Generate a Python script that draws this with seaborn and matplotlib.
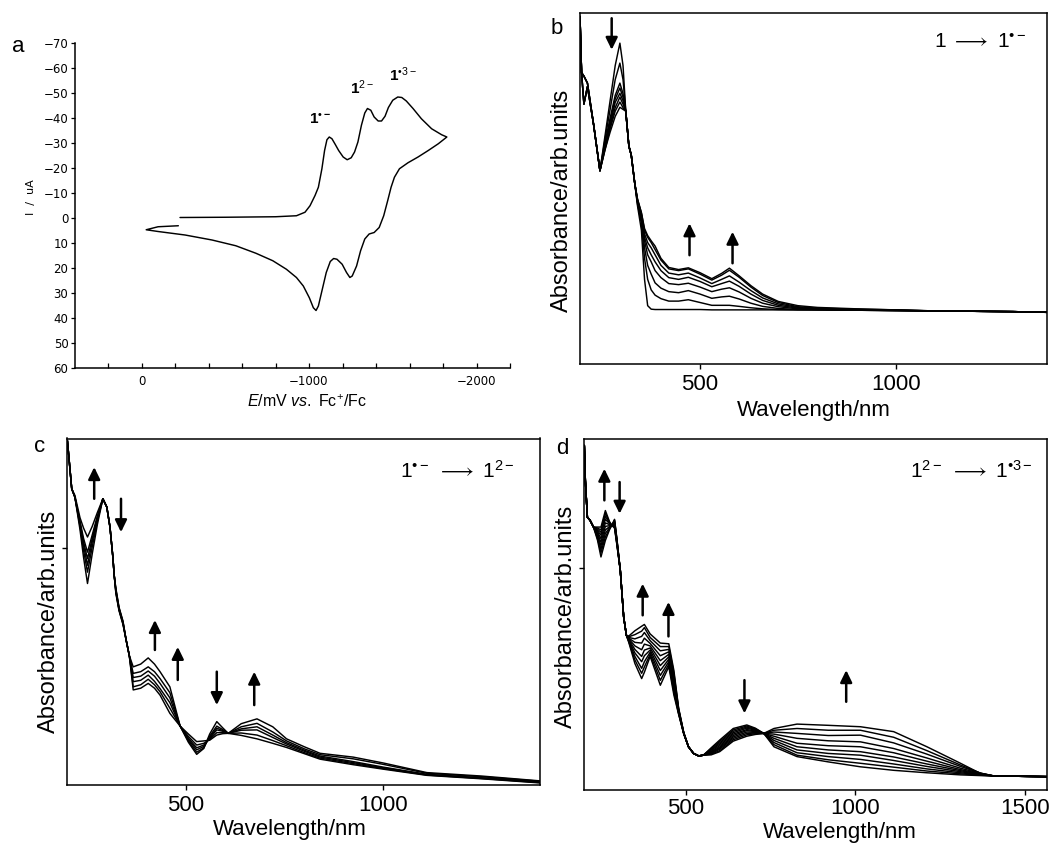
import matplotlib
matplotlib.use("Agg")
import matplotlib.pyplot as plt
import pandas as pd
import seaborn as sns

# ---------------- (a) cyclic voltammogram ----------------
cv_fwd_E = [-230, -500, -800, -925, -976, -1006, -1036, -1056, -1077, -1093,
            -1107, -1121, -1137, -1157, -1177, -1204, -1228, -1252, -1272, -1292,
            -1313, -1333, -1349, -1369, -1389, -1413, -1433, -1454, -1474, -1500,
            -1530, -1554, -1581, -1621, -1671, -1732, -1792, -1823]
cv_fwd_I = [-0.2, -0.3, -0.5, -0.9, -2.3, -4.9, -9.0, -12.3, -19.7, -27.0,
            -31.3, -32.4, -31.7, -29.4, -27.0, -24.4, -23.3, -24.1, -26.4, -30.4,
            -37.1, -42.0, -43.8, -43.1, -40.4, -38.8, -38.8, -40.7, -44.2, -47.1,
            -48.4, -48.2, -46.8, -43.8, -39.7, -35.7, -33.3, -32.4]
cv_rev_E = [-1823, -1772, -1712, -1651, -1591, -1540, -1510, -1490, -1470, -1446,
            -1419, -1389, -1359, -1333, -1308, -1284, -1258, -1244, -1224, -1198,
            -1167, -1147, -1127, -1103, -1077, -1056, -1042, -1026, -1002, -966,
            -925, -865, -784, -683, -563, -421, -260, -99, -28, -99, -220]
cv_rev_I = [-32.4, -29.7, -27.0, -24.4, -22.1, -19.7, -16.3, -12.3, -7.0, -0.9,
            3.8, 5.8, 6.4, 8.4, 13.1, 19.2, 23.2, 23.8, 21.8, 18.5,
            16.5, 16.2, 17.4, 21.8, 29.2, 35.2, 37.0, 35.9, 31.9, 27.2,
            23.8, 20.5, 17.1, 14.1, 11.1, 8.8, 6.8, 5.4, 4.7, 3.5, 3.1]
cv_xticks = [200, 0, -200, -400, -600, -800, -1000, -1200, -1400, -1600, -1800, -2000, -2200]
cv_xticklabels = ['', '0', '', '', '', '', '\u22121000', '', '', '', '', '\u22122000', '']
cv_yticks = [-70, -60, -50, -40, -30, -20, -10, 0, 10, 20, 30, 40, 50, 60]
cv_yticklabels = ['\u221270', '\u221260', '\u221250', '\u221240', '\u221230', '\u221220', '\u221210',
                  '0', '10', '20', '30', '40', '50', '60']
cv_wave_labels = ['$\\mathbf{1^{\u2022-}}$', r'$\mathbf{1}^{2-}$', '$\\mathbf{1}^{\u20223-}$']
cv_wave_E = [-1065, -1316, -1558]
cv_wave_I = [-39.5, -52.2, -57.5]

# ---------------- (b) 1 -> 1.- spectra ----------------
b_wl = [193, 197, 203, 212, 228, 244, 257, 270, 283, 295, 303, 310, 318, 324, 333, 340, 350, 358,
        366, 375, 385, 400, 420, 445, 470, 500, 530, 555, 575, 600, 630, 660, 700, 750, 800, 900,
        1000, 1100, 1200, 1300, 1387]
b_scans = [
    [99, 83, 82, 80, 68, 55, 65, 75, 85, 91.4, 85, 72, 62, 59.5, 51.4, 45, 38, 24, 16.5, 15.5,
     15.4, 15.4, 15.4, 15.4, 15.4, 15.4, 15.3, 15.3, 15.3, 15.3, 15.3, 15.3, 15.3, 15.3, 15.3, 15.2,
     15.1, 15.0, 14.9, 14.8, 14.6],
    [99, 83, 82, 80, 68, 55, 64, 72.5, 81, 85.7, 81, 72, 62, 59.5, 51.4, 45.5, 40, 30, 24, 21,
     19.5, 18.5, 17.8, 17.8, 18.2, 17.4, 16.6, 16.6, 16.6, 16.3, 15.9, 15.6, 15.4, 15.3, 15.3, 15.2,
     15.1, 15.0, 14.9, 14.8, 14.6],
    [99, 83, 82, 80, 68, 55, 63, 70, 76.5, 80.0, 77, 72, 62, 59.5, 51.4, 46, 41, 33, 28, 25.5,
     23, 21.5, 20.5, 20.2, 20.8, 19.8, 18.6, 19.0, 19.2, 18.4, 17.2, 16.3, 15.7, 15.4, 15.3, 15.2,
     15.1, 15.0, 14.9, 14.8, 14.6],
    [99, 83, 82, 80, 68, 55, 62.5, 69, 75.5, 78.6, 76, 72, 62, 59.5, 51.4, 46.2, 41.5, 35, 31, 29,
     26.5, 24.5, 22.8, 22.5, 22.9, 21.8, 20.5, 21.2, 21.6, 20.4, 18.6, 17.2, 16.2, 15.6, 15.4, 15.3,
     15.1, 15.0, 14.9, 14.8, 14.6],
    [99, 83, 74, 79, 68, 55, 62, 68, 74.5, 77.1, 75, 72, 62, 59.5, 51.4, 46.4, 42, 36, 33, 31,
     29, 26.5, 24.5, 24, 24.6, 23.4, 21.9, 22.8, 23.5, 22.0, 19.8, 18.0, 16.6, 15.8, 15.5, 15.3,
     15.2, 15.0, 14.9, 14.8, 14.6],
    [99, 83, 74, 79, 68, 55, 61.5, 67.5, 73, 76.0, 74, 72, 62, 59.5, 51.4, 46.6, 42.5, 37, 34.5, 33,
     31, 28, 25.8, 25.3, 25.8, 24.4, 22.8, 24.0, 25.0, 23.2, 20.8, 18.7, 17.0, 16.0, 15.6, 15.4,
     15.2, 15.0, 14.9, 14.8, 14.6],
    [99, 83, 74, 79, 68, 55, 61, 67, 72, 74.6, 73, 72, 62, 59.5, 51.4, 46.8, 43, 38, 36, 34.5,
     32.5, 29.5, 27, 26.5, 27.0, 25.5, 23.8, 25.2, 26.6, 24.6, 21.8, 19.4, 17.4, 16.2, 15.8, 15.5,
     15.3, 15.0, 14.9, 14.8, 14.6],
    [99, 83, 74, 79, 68, 55, 61, 66, 70.5, 73.1, 72.5, 72, 62, 59.5, 51.4, 47, 43, 38.5, 36.5, 35,
     33.5, 30, 27.4, 26.8, 27.3, 25.9, 24.2, 25.7, 27.2, 25.0, 22.2, 19.8, 17.7, 16.5, 16.0, 15.6,
     15.3, 15.0, 14.9, 14.8, 14.6],
]
b_arrow_wl = [274, 473, 583]
b_arrow_from = [98.5, 30.9, 28.6]
b_arrow_to = [89.5, 40.0, 37.6]

# ---------------- (c) 1.- -> 1 2- spectra ----------------
c_wl = [199, 210, 218, 231, 240, 250, 262, 275, 289, 299, 307, 314, 318, 322, 330, 340, 348, 356,
        366, 385, 404, 420, 434, 459, 485, 506, 527, 545, 560, 578, 593, 607, 640, 680, 720, 755,
        800, 840, 924, 1000, 1111, 1250, 1398]
c_scans = [
    [99.4, 85.4, 83.0, 73.5, 65.5, 57.9, 66.5, 75, 82.5, 80.1, 74.3, 66, 60, 55, 50, 46, 41.5, 37,
     27.0, 27.5, 28.9, 27.5, 25.5, 20.2, 16.5, 11.8, 8.3, 10.0, 14.2, 17.8, 16.0, 14.4, 13.8, 12.8,
     11.5, 10.3, 8.5, 6.9, 5.3, 4.0, 2.2, 1.2, 0.0],
    [99.4, 85.4, 83.0, 74.5, 67.5, 61.2, 68.5, 76, 82.5, 80.1, 74.3, 66, 60, 55.3, 50.2, 46.2, 41.5, 37,
     27.9, 28.5, 30.1, 28.5, 26.5, 21.7, 16.5, 12.2, 8.9, 10.2, 13.6, 16.5, 15.5, 14.4, 14.5, 13.9,
     12.3, 10.8, 8.8, 7.2, 5.6, 4.2, 2.3, 1.3, 0.1],
    [99.4, 85.4, 83.0, 75, 69, 63.2, 70, 76.5, 82.5, 80.1, 74.3, 66, 60, 55.6, 50.4, 46.4, 41.5, 37,
     29.4, 29.8, 31.3, 29.5, 27.4, 23.3, 16.5, 12.6, 9.6, 10.6, 13.2, 15.9, 15.2, 14.4, 15.3, 15.4,
     13.2, 11.3, 9.2, 7.5, 5.9, 4.4, 2.4, 1.4, 0.2],
    [99.4, 85.4, 83.0, 75.5, 70, 65.1, 71, 77, 82.5, 80.1, 74.3, 66, 60, 55.9, 50.6, 46.6, 41.5, 37,
     30.6, 31, 32.5, 31, 28.9, 24.7, 16.5, 13.0, 10.2, 11.0, 12.9, 15.4, 15.0, 14.4, 15.7, 16.3,
     13.9, 11.7, 9.5, 7.8, 6.2, 4.6, 2.5, 1.5, 0.3],
    [99.4, 85.4, 83.0, 76, 71, 67.0, 72, 77.5, 82.5, 80.1, 74.3, 66, 60, 56.2, 50.8, 46.8, 41.5, 37,
     31.8, 32.3, 33.7, 32.3, 30.3, 26.2, 16.5, 13.5, 11.0, 11.5, 12.6, 14.6, 14.6, 14.4, 16.3, 17.3,
     14.8, 12.2, 9.9, 8.2, 7.0, 5.4, 2.8, 1.8, 0.5],
    [99.4, 85.4, 83.5, 77, 74, 71.4, 74.5, 78.5, 82.5, 80.1, 74.3, 66, 60, 56.5, 51, 47, 41.5, 37,
     33.7, 34.5, 36.3, 34.5, 32.3, 27.9, 16.5, 14.2, 12.0, 12.2, 12.4, 13.9, 14.3, 14.4, 17.2, 18.6,
     16.3, 12.8, 10.5, 8.6, 7.5, 5.8, 3.0, 2.0, 0.6],
]
c_arrow_wl = [267, 335, 421, 479, 578, 673]
c_arrow_from = [82.5, 82.5, 38.6, 29.9, 32.3, 22.6]
c_arrow_to = [91.7, 72.8, 47.3, 39.5, 22.6, 32.3]

# ---------------- (d) 1 2- -> 1.3- spectra (one row per wavelength, 10 scans) ----------------
d_wl = [201, 204, 210, 218, 228, 240, 250, 263, 275, 282, 290, 297, 307, 317, 325, 332, 350, 370,
        378, 395, 425, 450, 465, 479, 494, 508, 523, 538, 552, 575, 600, 640, 680, 705, 730, 760,
        828, 920, 1015, 1113, 1211, 1310, 1369, 1408, 1565]
d_rows = [
    [98.0, 98.0, 98.0, 98.0, 98.0, 98.0, 98.0, 98.0, 98.0, 98.0],
    [88.0, 88.0, 88.0, 88.0, 88.0, 88.0, 88.0, 88.0, 88.0, 88.0],
    [77.6, 77.6, 77.6, 77.6, 77.6, 77.6, 77.6, 77.6, 77.6, 77.6],
    [76.7, 76.7, 76.7, 76.7, 76.7, 76.7, 76.7, 76.7, 76.7, 76.7],
    [74.8, 74.8, 74.8, 74.8, 74.8, 74.8, 74.8, 74.8, 74.8, 74.8],
    [71.0, 71.5, 72.0, 72.5, 73.0, 73.4, 73.8, 74.2, 74.5, 74.8],
    [66.3, 67.5, 68.5, 69.5, 70.5, 71.5, 72.5, 73.3, 74.0, 74.8],
    [71.0, 72.0, 73.0, 74.0, 75.0, 76.0, 77.0, 77.8, 78.7, 79.5],
    [74.0, 74.3, 74.6, 74.9, 75.2, 75.5, 75.8, 76.0, 76.2, 76.4],
    [75.3, 75.3, 75.3, 75.3, 75.3, 75.3, 75.3, 75.3, 75.3, 75.3],
    [77.0, 76.8, 76.6, 76.3, 76.0, 75.7, 75.4, 75.1, 74.8, 74.5],
    [71.5, 71.3, 71.1, 70.9, 70.7, 70.5, 70.3, 70.1, 69.9, 69.7],
    [62.5, 62.5, 62.5, 62.5, 62.5, 62.5, 62.5, 62.5, 62.5, 62.5],
    [49.2, 49.2, 49.2, 49.2, 49.2, 49.2, 49.2, 49.2, 49.2, 49.2],
    [44.0, 44.0, 44.0, 44.0, 44.0, 44.0, 44.0, 44.0, 44.0, 44.0],
    [42.0, 42.2, 42.4, 42.6, 42.8, 43.0, 43.2, 43.4, 43.6, 43.8],
    [36.0, 37.0, 38.0, 39.0, 40.0, 41.0, 42.0, 43.0, 44.2, 45.3],
    [31.7, 33.2, 34.6, 36.5, 38.0, 39.9, 41.8, 43.7, 45.2, 46.6],
    [33.5, 35.0, 36.5, 38.2, 39.8, 41.5, 43.2, 44.8, 46.2, 47.1],
    [38.0, 38.6, 39.2, 39.8, 40.4, 41.0, 41.7, 42.5, 43.4, 44.4],
    [29.8, 31.2, 32.6, 34.0, 35.4, 36.8, 38.2, 39.6, 40.8, 41.8],
    [35.1, 35.8, 36.5, 37.2, 37.9, 38.6, 39.3, 40.0, 40.8, 41.6],
    [27.0, 27.8, 28.6, 29.4, 30.2, 31.0, 31.8, 32.6, 33.3, 34.0],
    [21.5, 21.7, 21.9, 22.1, 22.3, 22.5, 22.7, 22.9, 23.1, 23.3],
    [16.0, 16.0, 16.1, 16.1, 16.1, 16.2, 16.2, 16.3, 16.3, 16.4],
    [12.3, 12.3, 12.3, 12.3, 12.3, 12.3, 12.3, 12.3, 12.3, 12.3],
    [10.4, 10.4, 10.4, 10.4, 10.4, 10.4, 10.4, 10.4, 10.4, 10.4],
    [9.7, 9.7, 9.7, 9.7, 9.7, 9.7, 9.7, 9.7, 9.7, 9.7],
    [9.9, 9.9, 9.9, 9.9, 9.9, 9.9, 9.9, 9.9, 9.9, 9.9],
    [12.0, 11.8, 11.5, 11.3, 11.0, 10.8, 10.6, 10.4, 10.2, 10.0],
    [14.2, 13.8, 13.4, 13.0, 12.6, 12.2, 11.9, 11.6, 11.2, 10.9],
    [17.5, 17.1, 16.7, 16.3, 15.9, 15.5, 15.1, 14.7, 14.3, 13.9],
    [18.5, 18.2, 17.9, 17.6, 17.2, 16.9, 16.5, 16.1, 15.7, 15.3],
    [17.6, 17.4, 17.2, 17.0, 16.8, 16.6, 16.4, 16.2, 16.0, 15.8],
    [16.1, 16.1, 16.1, 16.1, 16.1, 16.1, 16.1, 16.1, 16.1, 16.1],
    [12.3, 12.9, 13.5, 14.1, 14.7, 15.3, 15.9, 16.5, 17.0, 17.5],
    [9.5, 9.9, 10.6, 11.4, 12.3, 13.3, 14.7, 16.1, 17.5, 18.75],
    [8.0, 8.6, 9.5, 10.4, 11.4, 12.6, 14.0, 15.5, 17.0, 18.4],
    [6.6, 7.6, 8.7, 9.9, 10.9, 12.3, 13.7, 15.6, 17.0, 18.0],
    [5.6, 6.5, 7.4, 8.4, 9.4, 10.6, 11.8, 13.4, 15.0, 16.6],
    [4.9, 5.4, 6.0, 6.7, 7.4, 8.2, 9.1, 10.2, 11.2, 12.3],
    [4.3, 4.6, 4.9, 5.2, 5.5, 5.8, 6.2, 6.7, 7.1, 7.6],
    [4.1, 4.2, 4.3, 4.4, 4.5, 4.6, 4.7, 4.8, 4.8, 4.7],
    [4.0, 4.0, 4.0, 4.0, 4.0, 4.0, 4.0, 4.0, 4.0, 4.0],
    [3.8, 3.8, 3.8, 3.8, 3.8, 3.8, 3.8, 3.8, 3.8, 3.8],
]
d_arrow_wl = [260, 305, 373, 449, 673, 973]
d_arrow_from = [82.4, 87.6, 49.7, 43.7, 31.25, 25.1]
d_arrow_to = [91.4, 78.6, 58.7, 53.5, 21.8, 34.1]

# ---------------- style ----------------
sns.set_style("ticks")
plt.rcParams.update({
    'font.family': ['Liberation Sans', 'DejaVu Sans'],
    'mathtext.fontset': 'custom',
    'mathtext.rm': 'Liberation Sans',
    'mathtext.it': 'Liberation Sans:italic',
    'mathtext.bf': 'Liberation Sans:bold',
    'mathtext.fallback': 'stixsans',
    'axes.linewidth': 1.1,
    'axes.edgecolor': 'black',
    'axes.labelcolor': 'black',
    'text.color': 'black',
    'xtick.color': 'black',
    'ytick.color': 'black',
})

W, H = 1049, 844
fig = plt.figure(figsize=(W / 100, H / 100), dpi=100)


def px_axes(left, top, right, bottom):
    return fig.add_axes([left / W, 1 - bottom / H, (right - left) / W, (bottom - top) / H])


# ---------------- panel a ----------------
axa = px_axes(74.5, 43, 510, 368)
cv = pd.DataFrame({'E': cv_fwd_E + cv_rev_E[1:], 'I': cv_fwd_I + cv_rev_I[1:]})
sns.lineplot(data=cv, x='E', y='I', sort=False, estimator=None, color='k', lw=1.05, ax=axa)
axa.set_xlim(400, -2200)
axa.set_ylim(60, -70)
axa.spines[['top', 'right']].set_visible(False)
axa.set_xticks(cv_xticks)
axa.set_xticklabels(cv_xticklabels, fontfamily='DejaVu Sans', fontsize=8.5)
axa.set_yticks(cv_yticks)
axa.set_yticklabels(cv_yticklabels, fontfamily='DejaVu Sans', fontsize=8.5)
axa.tick_params(axis='x', direction='in', length=3.6, width=0.9, pad=5)
axa.tick_params(axis='y', direction='out', length=2.9, width=0.9, pad=1.5)
axa.set_xlabel(r'$\it{E}$/mV $\it{vs.}$ Fc$^{+}$/Fc', fontsize=11.5)
axa.xaxis.set_label_coords(0.534, -0.105)
axa.xaxis.label.set_va('center')
axa.set_ylabel('I  /  uA', fontsize=8, fontfamily='DejaVu Sans')
axa.yaxis.set_label_coords(-0.1, 0.526)
axa.yaxis.label.set_va('center')
for lab, e, i in zip(cv_wave_labels, cv_wave_E, cv_wave_I):
    axa.text(e, i, lab, ha='center', va='center', fontsize=11)


# ---------------- spectra panels ----------------
def spectra_panel(ax, wl, scans, xlim, ylim, xticks, yticks, pad=4):
    rows = [(w, a, k) for k, s in enumerate(scans) for w, a in zip(wl, s)]
    df = pd.DataFrame(rows, columns=['wl', 'A', 'scan'])
    sns.lineplot(data=df, x='wl', y='A', units='scan', estimator=None, color='k',
                 lw=1.05, ax=ax, legend=False)
    ax.set_xlim(*xlim)
    ax.set_ylim(*ylim)
    ax.set_xticks(xticks)
    ax.set_xticklabels([str(t) for t in xticks], fontsize=16)
    ax.set_yticks(yticks)
    ax.set_yticklabels([])
    ax.tick_params(axis='both', direction='out', length=3.5, width=1.0, pad=pad)
    ax.set_xlabel('Wavelength/nm', fontsize=16)
    ax.set_ylabel('Absorbance/arb.units', fontsize=17)
    ax.xaxis.label.set_va('center')
    ax.yaxis.label.set_va('center')


def arrows(ax, wls, frm, to):
    for w, a0, a1 in zip(wls, frm, to):
        ax.annotate('', xy=(w, a1), xytext=(w, a0),
                    arrowprops=dict(arrowstyle='-|>,head_length=0.45,head_width=0.22',
                                    lw=1.8, color='k', shrinkA=0, shrinkB=0,
                                    mutation_scale=16))


axb = px_axes(580, 13, 1047, 363.5)
spectra_panel(axb, b_wl, b_scans, (193, 1387), (0, 100), [500, 1000], [])
axb.xaxis.set_label_coords(0.5, -0.133)
axb.yaxis.set_label_coords(-0.038, 0.466)
arrows(axb, b_arrow_wl, b_arrow_from, b_arrow_to)
axb.text(0.956, 0.917, '$\\mathregular{1\\ \\longrightarrow\\ 1^{\u2022-}}$', transform=axb.transAxes,
         ha='right', va='center', fontsize=15)

axc = px_axes(67, 438.5, 540, 785)
spectra_panel(axc, c_wl, c_scans, (198, 1398), (-0.6, 100), [500, 1000], [68.1])
axc.xaxis.set_label_coords(0.471, -0.128)
axc.yaxis.set_label_coords(-0.038, 0.473)
arrows(axc, c_arrow_wl, c_arrow_from, c_arrow_to)
axc.text(0.947, 0.907, '$\\mathregular{1^{\u2022-}\\ \\longrightarrow\\ 1^{2-}}$', transform=axc.transAxes,
         ha='right', va='center', fontsize=15)

d_scans = [list(col) for col in zip(*d_rows)]
axd = px_axes(584, 438.5, 1047, 790)
spectra_panel(axd, d_wl, d_scans, (200, 1565), (0, 100), [500, 1000, 1500], [63.2], pad=2.5)
axd.xaxis.set_label_coords(0.553, -0.121)
axd.yaxis.set_label_coords(-0.040, 0.494)
arrows(axd, d_arrow_wl, d_arrow_from, d_arrow_to)
axd.text(0.970, 0.908, '$\\mathregular{1^{2-}\\ \\longrightarrow\\ 1^{\u20223-}}$', transform=axd.transAxes,
         ha='right', va='center', fontsize=15)

# panel letters
for letter, (x, y) in zip(['a', 'b', 'c', 'd'],
                          [(18.6, 46.6), (556.5, 28.7), (39.8, 446.3), (562.2, 448.7)]):
    fig.text(x / W, 1 - y / H, letter, ha='center', va='center', fontsize=16)

fig.savefig('out.png', dpi=100)
